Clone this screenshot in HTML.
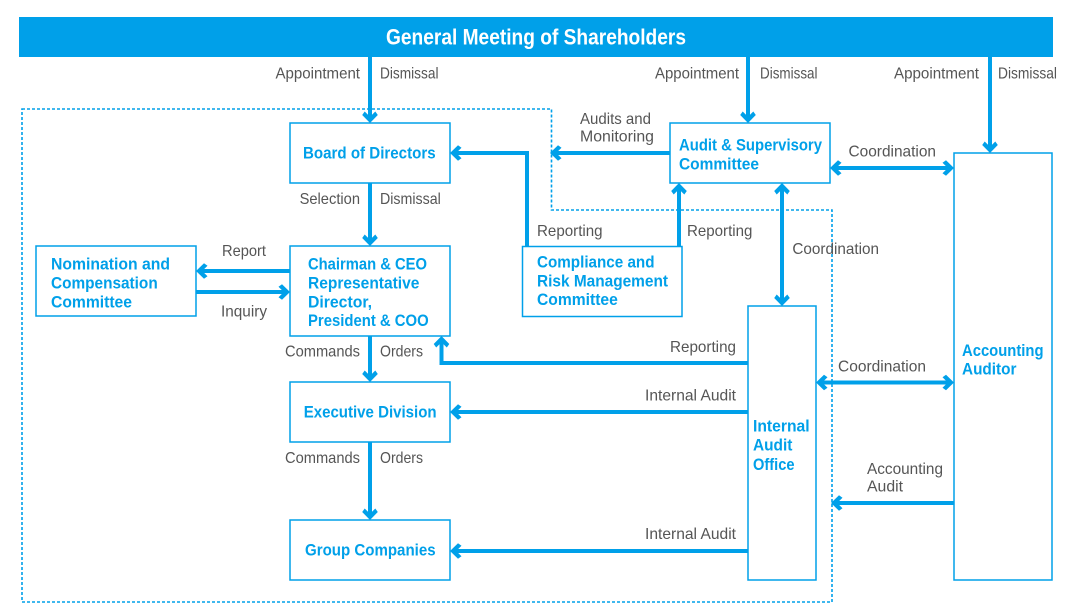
<!DOCTYPE html>
<html>
<head>
<meta charset="utf-8">
<style>
  html,body{margin:0;padding:0;background:#fff;}
  svg{display:block;}
  .g{font-family:"Liberation Sans",sans-serif;font-size:16px;fill:#555;}
  .b{font-family:"Liberation Sans",sans-serif;font-size:17px;font-weight:bold;fill:#00a0e9;}
  .t{font-family:"Liberation Sans",sans-serif;font-size:22px;font-weight:bold;fill:#fff;}
  .box{fill:#fff;stroke:#00a0e9;stroke-width:1.5;}
  .ln{fill:none;stroke:#00a0e9;stroke-width:4;stroke-linejoin:miter;}
  .ah{fill:#00a0e9;}
</style>
</head>
<body>
<svg width="1070" height="608" viewBox="0 0 1070 608" xmlns="http://www.w3.org/2000/svg">
  <defs>
    <path id="ah" d="M0,0 L-7.8,-8 L-5.3,-11.5 L0,-6.2 L5.3,-11.5 L7.8,-8 Z"/>
  </defs>

  <!-- Banner -->
  <rect x="19" y="17" width="1034" height="40" fill="#00a0e9"/>
  <text class="t" x="386" y="44.3" textLength="300" lengthAdjust="spacingAndGlyphs">General Meeting of Shareholders</text>

  <!-- Dotted boundary -->
  <path d="M22,109 H551.5 V210 H832 V602 H22 Z" fill="none" stroke="#00a0e9" stroke-width="1.6" stroke-dasharray="3,2"/>

  <!-- Boxes -->
  <rect class="box" x="290" y="123" width="160" height="60"/>
  <rect class="box" x="670" y="123" width="160" height="60"/>
  <rect class="box" x="36" y="246" width="160" height="70"/>
  <rect class="box" x="290" y="246" width="160" height="90"/>
  <rect class="box" x="522.5" y="246.5" width="159.5" height="70"/>
  <rect class="box" x="290" y="382" width="160" height="60"/>
  <rect class="box" x="290" y="520" width="160" height="60"/>
  <rect class="box" x="748" y="306" width="68" height="274"/>
  <rect class="box" x="954" y="153" width="98" height="427"/>

  <!-- Lines -->
  <path class="ln" d="M370,57 V118"/>
  <path class="ln" d="M748,57 V118"/>
  <path class="ln" d="M990,57 V148"/>
  <path class="ln" d="M670,153 H555"/>
  <path class="ln" d="M527,246.5 V153 H455"/>
  <path class="ln" d="M679,246.5 V188"/>
  <path class="ln" d="M835,168 H949"/>
  <path class="ln" d="M782,188 V301"/>
  <path class="ln" d="M370,183 V241"/>
  <path class="ln" d="M290,271 H201"/>
  <path class="ln" d="M196,292 H285"/>
  <path class="ln" d="M370,336 V377"/>
  <path class="ln" d="M370,442 V515"/>
  <path class="ln" d="M748,363 H441.5 V341"/>
  <path class="ln" d="M748,412 H455"/>
  <path class="ln" d="M748,551 H455"/>
  <path class="ln" d="M821,382.5 H949"/>
  <path class="ln" d="M954,503 H836"/>

  <!-- Arrowheads -->
  <g class="ah">
    <use href="#ah" transform="translate(370,123)"/>
    <use href="#ah" transform="translate(748,123)"/>
    <use href="#ah" transform="translate(990,153)"/>
    <use href="#ah" transform="translate(550,153) rotate(90)"/>
    <use href="#ah" transform="translate(450,153) rotate(90)"/>
    <use href="#ah" transform="translate(679,183) rotate(180)"/>
    <use href="#ah" transform="translate(830,168) rotate(90)"/>
    <use href="#ah" transform="translate(954,168) rotate(-90)"/>
    <use href="#ah" transform="translate(782,183) rotate(180)"/>
    <use href="#ah" transform="translate(782,306)"/>
    <use href="#ah" transform="translate(370,246)"/>
    <use href="#ah" transform="translate(196,271) rotate(90)"/>
    <use href="#ah" transform="translate(290,292) rotate(-90)"/>
    <use href="#ah" transform="translate(370,382)"/>
    <use href="#ah" transform="translate(370,520)"/>
    <use href="#ah" transform="translate(441.5,336) rotate(180)"/>
    <use href="#ah" transform="translate(450,412) rotate(90)"/>
    <use href="#ah" transform="translate(450,551) rotate(90)"/>
    <use href="#ah" transform="translate(816,382.5) rotate(90)"/>
    <use href="#ah" transform="translate(954,382.5) rotate(-90)"/>
    <use href="#ah" transform="translate(831,503) rotate(90)"/>
  </g>

  <!-- Gray labels -->
  <text class="g" x="275.5" y="78.3" textLength="84.5" lengthAdjust="spacingAndGlyphs">Appointment</text>
  <text class="g" x="380" y="78.3" textLength="58.5" lengthAdjust="spacingAndGlyphs">Dismissal</text>
  <text class="g" x="655" y="78.3" textLength="84" lengthAdjust="spacingAndGlyphs">Appointment</text>
  <text class="g" x="760" y="78.3" textLength="57.5" lengthAdjust="spacingAndGlyphs">Dismissal</text>
  <text class="g" x="894" y="78.3" textLength="85" lengthAdjust="spacingAndGlyphs">Appointment</text>
  <text class="g" x="998" y="78.3" textLength="59" lengthAdjust="spacingAndGlyphs">Dismissal</text>

  <text class="g" x="580" y="124" textLength="71" lengthAdjust="spacingAndGlyphs">Audits and</text>
  <text class="g" x="580" y="141.5" textLength="74" lengthAdjust="spacingAndGlyphs">Monitoring</text>
  <text class="g" x="848.5" y="156.5" textLength="87.5" lengthAdjust="spacingAndGlyphs">Coordination</text>

  <text class="g" x="299.6" y="204" textLength="60.4" lengthAdjust="spacingAndGlyphs">Selection</text>
  <text class="g" x="380" y="204" textLength="60.8" lengthAdjust="spacingAndGlyphs">Dismissal</text>

  <text class="g" x="537" y="236" textLength="65.6" lengthAdjust="spacingAndGlyphs">Reporting</text>
  <text class="g" x="687" y="236" textLength="65.4" lengthAdjust="spacingAndGlyphs">Reporting</text>
  <text class="g" x="792.4" y="254" textLength="86.6" lengthAdjust="spacingAndGlyphs">Coordination</text>

  <text class="g" x="222" y="256" textLength="44" lengthAdjust="spacingAndGlyphs">Report</text>
  <text class="g" x="221" y="316.5" textLength="46" lengthAdjust="spacingAndGlyphs">Inquiry</text>

  <text class="g" x="285" y="356.5" textLength="75" lengthAdjust="spacingAndGlyphs">Commands</text>
  <text class="g" x="380" y="356.5" textLength="43" lengthAdjust="spacingAndGlyphs">Orders</text>
  <text class="g" x="670" y="352" textLength="66" lengthAdjust="spacingAndGlyphs">Reporting</text>
  <text class="g" x="838" y="371.5" textLength="88" lengthAdjust="spacingAndGlyphs">Coordination</text>
  <text class="g" x="645" y="400.5" textLength="91" lengthAdjust="spacingAndGlyphs">Internal Audit</text>

  <text class="g" x="285" y="463" textLength="75" lengthAdjust="spacingAndGlyphs">Commands</text>
  <text class="g" x="380" y="463" textLength="43" lengthAdjust="spacingAndGlyphs">Orders</text>
  <text class="g" x="867" y="474" textLength="76" lengthAdjust="spacingAndGlyphs">Accounting</text>
  <text class="g" x="867" y="491.5" textLength="36" lengthAdjust="spacingAndGlyphs">Audit</text>
  <text class="g" x="645" y="539" textLength="91" lengthAdjust="spacingAndGlyphs">Internal Audit</text>

  <!-- Blue bold labels -->
  <text class="b" x="303" y="158.3" textLength="132.6" lengthAdjust="spacingAndGlyphs">Board of Directors</text>
  <text class="b" x="679" y="150.7" textLength="143" lengthAdjust="spacingAndGlyphs">Audit &amp; Supervisory</text>
  <text class="b" x="679" y="169.3" textLength="80" lengthAdjust="spacingAndGlyphs">Committee</text>

  <text class="b" x="51" y="269.3" textLength="119" lengthAdjust="spacingAndGlyphs">Nomination and</text>
  <text class="b" x="51" y="288.5" textLength="106.7" lengthAdjust="spacingAndGlyphs">Compensation</text>
  <text class="b" x="51" y="307.5" textLength="81" lengthAdjust="spacingAndGlyphs">Committee</text>

  <text class="b" x="308" y="269.3" textLength="119" lengthAdjust="spacingAndGlyphs">Chairman &amp; CEO</text>
  <text class="b" x="308" y="288.5" textLength="111.4" lengthAdjust="spacingAndGlyphs">Representative</text>
  <text class="b" x="308" y="307.5" textLength="64" lengthAdjust="spacingAndGlyphs">Director,</text>
  <text class="b" x="308" y="326" textLength="120.7" lengthAdjust="spacingAndGlyphs">President &amp; COO</text>

  <text class="b" x="537" y="267.7" textLength="117.5" lengthAdjust="spacingAndGlyphs">Compliance and</text>
  <text class="b" x="537" y="286.7" textLength="131" lengthAdjust="spacingAndGlyphs">Risk Management</text>
  <text class="b" x="537" y="305" textLength="80.8" lengthAdjust="spacingAndGlyphs">Committee</text>

  <text class="b" x="303.7" y="417.3" textLength="132.9" lengthAdjust="spacingAndGlyphs">Executive Division</text>
  <text class="b" x="305" y="555.7" textLength="130.6" lengthAdjust="spacingAndGlyphs">Group Companies</text>

  <text class="b" x="753" y="431.7" textLength="56.6" lengthAdjust="spacingAndGlyphs">Internal</text>
  <text class="b" x="753" y="450.5" textLength="39.4" lengthAdjust="spacingAndGlyphs">Audit</text>
  <text class="b" x="753" y="470" textLength="41.5" lengthAdjust="spacingAndGlyphs">Office</text>

  <text class="b" x="962" y="356" textLength="81.5" lengthAdjust="spacingAndGlyphs">Accounting</text>
  <text class="b" x="962" y="374.3" textLength="54.5" lengthAdjust="spacingAndGlyphs">Auditor</text>
</svg>
</body>
</html>
